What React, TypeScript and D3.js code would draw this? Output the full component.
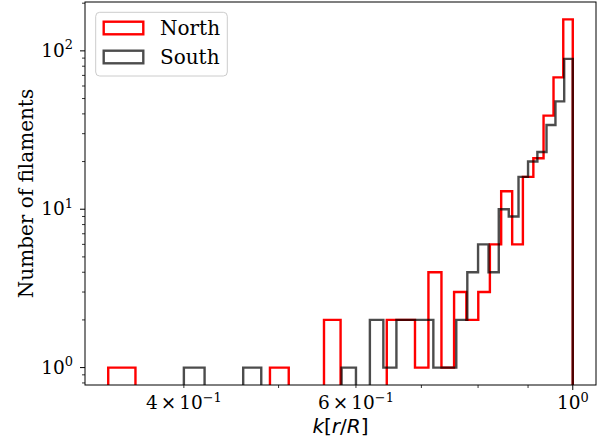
import React from 'react';
import * as d3 from 'd3';

// Histogram data (30 equal-width bins each)
const northRange = [0.3347, 1.0];
const northCounts = [1, 0, 0, 0, 0, 0, 0, 1, 0, 0, 2, 0, 0, 0, 2, 2, 1, 4, 1, 3, 2, 3, 6, 13, 6, 16, 21, 39, 68, 158];
const southRange = [0.4, 1.0];
const southCounts = [1, 0, 0, 1, 0, 0, 0, 0, 0, 1, 0, 2, 1, 2, 2, 2, 1, 1, 2, 4, 6, 4, 10, 9, 16, 20, 23, 34, 48, 89];

const seriesNames = ['North', 'South'];

const xTickValues = [0.4, 0.6, 1.0];
const xTickMantissa = ['4', '6', ''];
const xTickExp = ['\u22121', '\u22121', '0'];
const xMinorTickValues = [0.4, 0.5, 0.6, 0.7, 0.8, 0.9];

const yTickValues = [1, 10, 100];
const yTickExp = ['0', '1', '2'];

const W = 607;
const H = 446;
const M = { left: 85, right: 596, top: 2, bottom: 385 };

function edges(range: number[], n: number) {
  return d3.range(n + 1).map((i) => range[0] + ((range[1] - range[0]) * i) / n);
}

export default function App() {
  const allMin = Math.min(northRange[0], southRange[0]);
  const allMax = Math.max(northRange[1], southRange[1]);
  const lx0 = Math.log10(allMin), lx1 = Math.log10(allMax);
  const mx = (lx1 - lx0) * 0.05;
  const x = d3.scaleLog().domain([10 ** (lx0 - mx), 10 ** (lx1 + mx)]).range([M.left, M.right]);

  const maxC = Math.max(d3.max(northCounts)!, d3.max(southCounts)!);
  const ly1 = Math.log10(maxC);
  const my = ly1 * 0.05;
  const y = d3.scaleLog().domain([10 ** (-my), 10 ** (ly1 + my)]).range([M.bottom, M.top]);

  const yOf = (c: number) => (c > 0 ? y(c) : M.bottom + 20);

  const stepPath = (range: number[], counts: number[]) => {
    const e = edges(range, counts.length);
    const pts: [number, number][] = [[x(e[0]), M.bottom + 20]];
    counts.forEach((c, i) => {
      pts.push([x(e[i]), yOf(c)]);
      pts.push([x(e[i + 1]), yOf(c)]);
    });
    pts.push([x(e[e.length - 1]), M.bottom + 20]);
    return d3.line()(pts)!;
  };

  const yMinor: number[] = [];
  [0.1, 1, 10, 100].forEach((d) => {
    for (let k = 2; k <= 9; k++) {
      const v = d * k;
      const [a, b] = y.domain();
      if (v >= a && v <= b) yMinor.push(v);
    }
  });

  const serif = 'DejaVu Serif';
  const tickFs = 18.5;
  const labelFs = 20;
  const colors = ['#ff0000', '#000000'];
  const opac = [1, 0.7];

  return (
    <svg width={W} height={H} style={{ position: 'absolute', left: 0, top: 0, background: '#fff' }}>
      <defs>
        <clipPath id="plotclip">
          <rect x={M.left} y={M.top} width={M.right - M.left} height={M.bottom - M.top} />
        </clipPath>
      </defs>
      <rect x={0} y={0} width={W} height={H} fill="#fff" />
      <g clipPath="url(#plotclip)">
        <path d={stepPath(northRange, northCounts)} fill="none" stroke={colors[0]} strokeOpacity={opac[0]} strokeWidth={2.4} strokeLinejoin="miter" />
        <path d={stepPath(southRange, southCounts)} fill="none" stroke={colors[1]} strokeOpacity={opac[1]} strokeWidth={2.4} strokeLinejoin="miter" />
      </g>
      {/* spines */}
      <rect x={M.left} y={M.top} width={M.right - M.left} height={M.bottom - M.top} fill="none" stroke="#000" strokeWidth={1} />
      {/* x ticks */}
      {xMinorTickValues.map((v) => (
        <line key={'xm' + v} x1={x(v)} x2={x(v)} y1={M.bottom} y2={M.bottom + 3} stroke="#000" strokeWidth={0.8} />
      ))}
      {[1].map((v) => (
        <line key={'xM' + v} x1={x(v)} x2={x(v)} y1={M.bottom} y2={M.bottom + 5} stroke="#000" strokeWidth={1} />
      ))}
      {xTickValues.map((v, i) => (
        <text key={'xl' + v} x={x(v)} y={409} textAnchor="middle" fontFamily={serif} fontSize={tickFs} fill="#000">
          {xTickMantissa[i] ? (
            <>
              {xTickMantissa[i]}
              <tspan dx={3}>×</tspan>
              <tspan dx={3}>10</tspan>
            </>
          ) : (
            '10'
          )}
          <tspan fontSize={tickFs * 0.7} dy={-7.5}>{xTickExp[i]}</tspan>
        </text>
      ))}
      {/* y ticks */}
      {yMinor.map((v) => (
        <line key={'ym' + v} x1={M.left - 3} x2={M.left} y1={y(v)} y2={y(v)} stroke="#000" strokeWidth={0.8} />
      ))}
      {yTickValues.map((v, i) => (
        <g key={'yt' + v}>
          <line x1={M.left - 5} x2={M.left} y1={y(v)} y2={y(v)} stroke="#000" strokeWidth={1} />
          <text x={M.left - 12} y={y(v) + 6} textAnchor="end" fontFamily={serif} fontSize={tickFs} fill="#000">
            10<tspan fontSize={tickFs * 0.7} dy={-7.5}>{yTickExp[i]}</tspan>
          </text>
        </g>
      ))}
      {/* axis labels */}
      <text x={(M.left + M.right) / 2} y={433} textAnchor="middle" fontFamily="DejaVu Sans" fontSize={labelFs} fill="#000">
        <tspan fontStyle="italic">k</tspan>[<tspan fontStyle="italic">r</tspan>/<tspan fontStyle="italic">R</tspan>]
      </text>
      <text transform={`translate(33,${(M.top + M.bottom) / 2}) rotate(-90)`} textAnchor="middle" fontFamily={serif} fontSize={labelFs} fill="#000">
        Number of filaments
      </text>
      {/* legend */}
      <rect x={95.7} y={12.3} width={131.6} height={63.7} rx={4} fill="#fff" fillOpacity={0.8} stroke="#cccccc" strokeWidth={1} />
      {seriesNames.map((s, i) => (
        <g key={s}>
          <rect x={103.7} y={21.7 + i * 29} width={39.6} height={12.6} fill="none" stroke={colors[i]} strokeOpacity={opac[i]} strokeWidth={2.4} />
          <text x={160} y={35 + i * 29} fontFamily={serif} fontSize={labelFs} fill="#000">{s}</text>
        </g>
      ))}
    </svg>
  );
}
